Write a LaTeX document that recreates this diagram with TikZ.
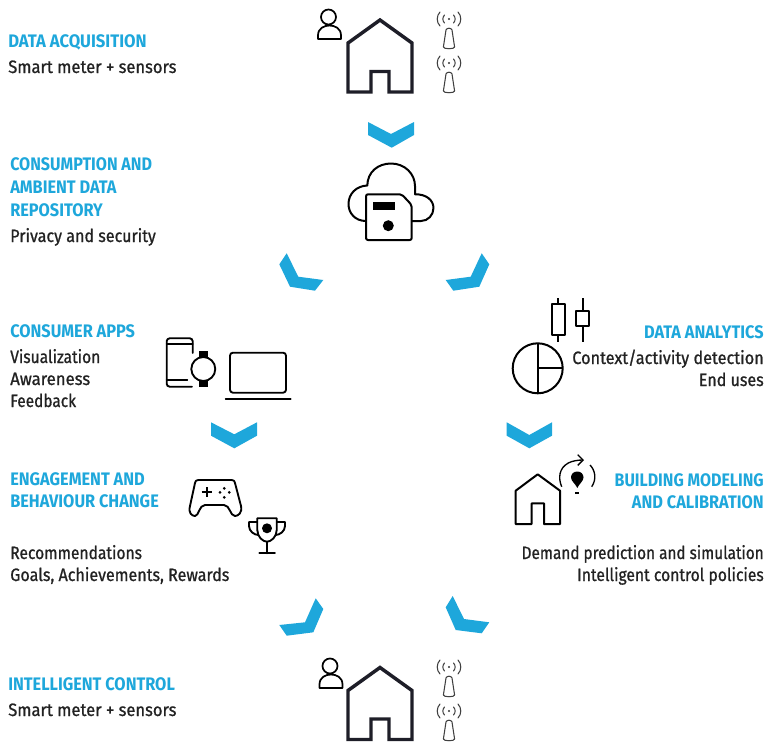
\documentclass[tikz,border=0pt]{standalone}
\usepackage{fontspec}
\setmainfont{Fira Sans}
\newfontfamily\headfont[FakeStretch=0.90]{Fira Sans}
\newfontfamily\bodyfont[FakeStretch=0.90,FakeBold=0.9]{Fira Sans}
\usetikzlibrary{arrows.meta}
\definecolor{skyb}{HTML}{1EA7DB}
\definecolor{inkd}{HTML}{1E1E28}
\definecolor{bodyt}{HTML}{222222}
\newcommand{\fitw}[2]{\scalebox{#1}[1]{#2}}
\tikzset{
  x=0.75pt,y=-0.75pt,
  chev/.style={fill=skyb,draw=none},
  headl/.style={inner sep=0,anchor=base west,text=skyb,font=\headfont\bfseries\fontsize{13.6pt}{14pt}\selectfont},
  headr/.style={headl,anchor=base east},
  bodyl/.style={inner sep=0,anchor=base west,text=bodyt,font=\bodyfont\fontsize{13.4pt}{14pt}\selectfont},
  bodyr/.style={bodyl,anchor=base east},
  bighouse/.style={draw=inkd,line width=2.6pt,miter limit=10},
  thin/.style={draw=black,line width=1.4pt,line join=round,line cap=round},
  mid/.style={draw=black,line width=1.5pt,line join=round},
  ant/.style={draw=black!75,line width=0.8pt,line cap=round},
  person/.pic={
    \draw[black,line width=1.3pt] (0,0) circle (7.5);
    \draw[black,line width=1.3pt,line join=round] (-10.5,22) -- (-10.5,18.5) .. controls (-10.5,11) and (-4,8.5) .. (1,8.5) .. controls (6,8.5) and (12.5,11) .. (12.5,18.5) -- (12.5,22) -- cycle;
  },
  antenna/.pic={
    \draw[ant] (-4.5,-4) .. controls (-6.7,-1.5) and (-6.7,1.5) .. (-4.5,4);
    \draw[ant] (4.5,-4) .. controls (6.7,-1.5) and (6.7,1.5) .. (4.5,4);
    \draw[ant] (-9,-7) .. controls (-12.7,-3) and (-12.7,3) .. (-9,7);
    \draw[ant] (9,-7) .. controls (12.7,-3) and (12.7,3) .. (9,7);
    \fill[black!80] (0,0) circle (1.1);
    \draw[ant,line join=round] (-5.6,28) -- (-3,11) .. controls (-2.4,8.6) and (2.4,8.6) .. (3,11) -- (5.6,28) .. controls (5.8,30.3) and (-5.8,30.3) .. (-5.6,28) -- cycle;
  },
  house/.pic={
    \draw[bighouse] (-9,72) -- (-32,72) -- (-32,23) -- (0,0) -- (32,23) -- (32,72) -- (9,72) -- (9,51.5) -- (-9,51.5) -- cycle;
  },
}
\begin{document}
\begin{tikzpicture}
\useasboundingbox (0,0) rectangle (765,743);
% top icons
\pic at (380,20) {house};
\pic at (328.5,17) {person};
\pic at (449,19) {antenna};
\pic at (449,63) {antenna};
% chevrons
\fill[chev] (368,122) -- (391,134) -- (414,122) -- (414,135) -- (391.7,147.7) -- (368,135) -- cycle;
\fill[chev] (211,422.3) -- (234.3,434.3) -- (257,422.3) -- (257,435.7) -- (234.3,448.3) -- (211,435.7) -- cycle;
\fill[chev] (506.7,422.3) -- (529.3,435) -- (552,422.3) -- (552,435.7) -- (529.3,448.3) -- (506.7,435.7) -- cycle;
\fill[chev] (286.7,253.3) -- (298.3,276.7) -- (323.3,280) -- (315,290.7) -- (290,286.7) -- (279.3,264.3) -- cycle;
\fill[chev] (481.7,253.3) -- (470.7,276.7) -- (445.7,280) -- (453.3,290.7) -- (479.3,286.7) -- (489.3,264.3) -- cycle;
\fill[chev] (315.7,598.3) -- (305,622.3) -- (279.3,625) -- (286.7,635.7) -- (313.3,632.3) -- (323.3,609) -- cycle;
\fill[chev] (452.7,596) -- (464,619) -- (489.3,622.3) -- (481.7,633.3) -- (455.7,630) -- (445.7,607.3) -- cycle;
% cloud + floppy
\draw[mid] (366,221) .. controls (355,221) and (348.5,213) .. (348.5,204) .. controls (348.5,194) and (356,186) .. (367.3,185.5) .. controls (367.5,172) and (378,163.5) .. (391,163.5) .. controls (405,163.5) and (415,174) .. (415,186) -- (415,194.3) .. controls (426,194) and (433.5,200) .. (433.5,208) .. controls (433.5,215) and (428,221) .. (421,221) -- (411.7,221);
\draw[mid,fill=white,rounded corners=1.5pt] (366,194.3) -- (401.7,194.3) -- (411.7,205) -- (411.7,240) -- (366,240) -- cycle;
\fill (373.3,202.3) rectangle (395,210);
\fill (388.3,225.7) circle (5.5);
% phone, watch, laptop
\draw[thin,rounded corners=2.2pt] (192.7,353) -- (192.7,338.3) -- (166.7,338.3) -- (166.7,386.7) -- (192,386.7);
\draw[thin] (166.7,344) -- (192.7,344);
\draw[thin] (166.7,380) -- (187.3,380);
\fill (198.5,350.7) rectangle (208,358);
\fill (198.5,380) rectangle (208,386.7);
\draw[thin] (203.3,369) circle (12);
\draw[thin,rounded corners=2.2pt] (230,352.7) rectangle (286,392.7);
\draw[thin] (225.7,398.7) -- (290.7,398.7);
% candles, pie
\draw[mid] (558.3,298.3) -- (558.3,304.3) (558.3,335) -- (558.3,341.7);
\draw[mid] (551.7,304.3) rectangle (565,335);
\draw[mid] (582.7,298.3) -- (582.7,311) (582.7,326) -- (582.7,341.7);
\draw[mid] (576,311) rectangle (589,326);
\draw[mid] (537.7,368.3) circle (25);
\draw[mid] (537.7,343.3) -- (537.7,393.3) (537.7,368.3) -- (562.7,368.3);
% gamepad, trophy
\draw[thin] (198.3,480) -- (231.7,480) .. controls (234,480) and (234.5,481) .. (235,483) -- (241,506) .. controls (242.5,513) and (238,516) .. (235,516) .. controls (230,516) and (230,505) .. (224,505) -- (205,505) .. controls (199,505) and (199,516) .. (195,516) .. controls (192,516) and (188,513) .. (190,506) -- (195,483) .. controls (195.5,481) and (196,480) .. (198.3,480) -- cycle;
\draw[black,line width=1.4pt] (201.7,492.3) -- (211.7,492.3) (206.7,487.3) -- (206.7,497.3);
\fill (220,492.3) circle (1.5) (224.3,488.3) circle (1.5) (229.3,492.3) circle (1.5) (224.3,497.3) circle (1.5);
\draw[thin] (257.3,518.3) -- (276.7,518.3) -- (276.7,530) .. controls (276.7,537) and (271,541.7) .. (267,541.7) .. controls (263,541.7) and (257.3,537) .. (257.3,530) -- cycle;
\draw[thin] (257.3,522) -- (249,522) -- (249,526) .. controls (249,531) and (254,535) .. (258.5,535);
\draw[thin] (276.7,522) -- (285,522) -- (285,526) .. controls (285,531) and (280,535) .. (275.5,535);
\draw[thin] (267,541.7) -- (267,553.3) (259.3,553.3) -- (275,553.3);
\fill (267,528.3) circle (5);
% modelling house
\draw[mid,miter limit=10] (531.7,524) -- (515.7,524) -- (515.7,490.7) -- (537.7,474.3) -- (560,490.7) -- (560,524) -- (544,524) -- (544,503.3) -- (531.7,503.3) -- cycle;
\draw[black,line width=1pt,-{Straight Barb[length=4pt,width=8pt]}] (561.7,486.7) .. controls (558,478) and (559,468) .. (568.3,463) .. controls (572,461) and (578,460) .. (584,460);
\draw[black,line width=1pt] (590,465) .. controls (595,470) and (597,479) .. (591.7,486.7);
\fill (577.3,471.5) .. controls (581,471.5) and (583.5,474) .. (583.5,477.5) .. controls (583.5,481) and (579,484) .. (577.3,488) .. controls (575.6,484) and (571,481) .. (571,477.5) .. controls (571,474) and (573.6,471.5) .. (577.3,471.5) -- cycle;
\fill (575.3,491.5) rectangle (579.3,493.5);
% bottom icons
\pic at (380,667.5) {house};
\pic at (330,666) {person};
\pic at (449,667) {antenna};
\pic at (449,711) {antenna};
% texts
\node[headl] (h1) at (8,47) {\fitw{1.02}{DATA ACQUISITION}};
\node[bodyl] (b1) at (8,73) {\fitw{1.03}{Smart meter + sensors}};
\node[headl] (h2a) at (10,170.7) {\fitw{0.985}{CONSUMPTION AND}};
\node[headl] (h2b) at (10,193.3) {AMBIENT DATA};
\node[headl] (h2c) at (10,216.7) {REPOSITORY};
\node[bodyl] (b2) at (10,242) {Privacy and security};
\node[headl] (h3) at (10,337) {CONSUMER APPS};
\node[bodyl] (b3a) at (10,363) {\fitw{0.97}{Visualization}};
\node[bodyl] (b3b) at (10,385) {\fitw{1.04}{Awareness}};
\node[bodyl] (b3c) at (10,407) {\fitw{0.96}{Feedback}};
\node[headr] (h4) at (764,338) {DATA ANALYTICS};
\node[bodyr] (b4a) at (764,364) {\fitw{1.01}{Context/activity detection}};
\node[bodyr] (b4b) at (764,386) {End uses};
\node[headl] (h5a) at (10,485) {ENGAGEMENT AND};
\node[headl] (h5b) at (10,507) {BEHAVIOUR CHANGE};
\node[bodyl] (b5a) at (10,559) {\fitw{0.97}{Recommendations}};
\node[bodyl] (b5b) at (10,581) {Goals, Achievements, Rewards};
\node[headr] (h6a) at (764,486) {\fitw{0.98}{BUILDING MODELING}};
\node[headr] (h6b) at (764,508) {AND CALIBRATION};
\node[bodyr] (b6a) at (764,559) {\fitw{0.953}{Demand prediction and simulation}};
\node[bodyr] (b6b) at (764,581) {\fitw{0.974}{Intelligent control policies}};
\node[headl] (h7) at (8,690) {INTELLIGENT CONTROL};
\node[bodyl] (b7) at (8,716) {\fitw{1.03}{Smart meter + sensors}};
\end{tikzpicture}
\end{document}
